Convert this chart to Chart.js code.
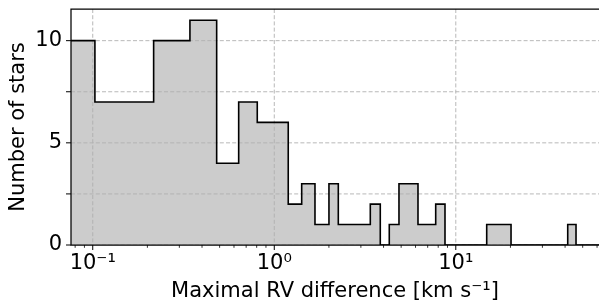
<!DOCTYPE html>
<html>
<head>
<meta charset="utf-8">
<script src="https://cdn.jsdelivr.net/npm/chart.js@4/dist/chart.umd.min.js"></script>
<style>
  html, body { margin: 0; padding: 0; background: #fff; overflow: hidden; }
</style>
</head>
<body>
<canvas id="chart" width="599" height="305"></canvas>
<script>
// Histogram of maximal RV differences, log-spaced bins.
const binEdges = [0.05, 0.1028, 0.2165, 0.3431, 0.4816, 0.6367, 0.806, 1.194, 1.416, 1.676,
  2.001, 2.253, 3.381, 3.837, 4.301, 4.864, 6.191, 7.75, 8.72, 14.80, 20.15, 41.36, 45.95];
const starCounts = [10, 7, 10, 11, 4, 7, 6, 2, 3, 1, 3, 1, 2, 0, 1, 3, 1, 2, 0, 1, 0, 1];

const xRange = [0.0759, 61.5];
const yRange = [0, 11.55];
const xMajorTicks = [0.1, 1, 10];
const xMajorLabels = ['10\u207B\u00B9', '10\u2070', '10\u00B9'];
const xMinorTicks = [0.08, 0.09, 0.2, 0.3, 0.4, 0.5, 0.6, 0.7, 0.8, 0.9,
  2, 3, 4, 5, 6, 7, 8, 9, 20, 30, 40, 50, 60];
const yTicks = [0, 2.5, 5, 7.5, 10];
const yLabelTicks = [0, 5, 10];

const FONT = 'DejaVu Sans';
const near = (a, b) => Math.abs(a - b) < 1e-9 * Math.max(1, Math.abs(b));

// step outline: each bin's left edge carries its count, the last edge drops to 0
const stepPoints = starCounts.map((count, i) => ({ x: binEdges[i], y: count }));
stepPoints.push({ x: binEdges[binEdges.length - 1], y: 0 });
stepPoints.push({ x: 100, y: 0 });

/** Dashed grid drawn over the fill, like matplotlib's default zorder. */
const gridPlugin = {
  id: 'mplGrid',
  beforeDatasetsDraw(chart) {
    const { ctx, chartArea: area, scales: { x, y } } = chart;
    ctx.save();
    ctx.beginPath();
    ctx.rect(area.left, area.top, area.right - area.left, area.bottom - area.top);
    ctx.clip();
    ctx.strokeStyle = '#b0b0b0';
    ctx.lineWidth = 0.9;
    ctx.setLineDash([4, 2.2]);
    xMajorTicks.forEach(v => {
      const px = x.getPixelForValue(v);
      ctx.beginPath();
      ctx.moveTo(px, area.top);
      ctx.lineTo(px, area.bottom);
      ctx.stroke();
    });
    yTicks.forEach(v => {
      const py = y.getPixelForValue(v);
      ctx.beginPath();
      ctx.moveTo(area.left, py);
      ctx.lineTo(area.right, py);
      ctx.stroke();
    });
    ctx.restore();
  },
  afterDatasetsDraw(chart) {
    const { ctx, chartArea: area, scales: { x, y } } = chart;
    ctx.save();
    ctx.strokeStyle = '#000';
    // tick marks
    ctx.lineWidth = 1;
    yTicks.forEach(v => {
      const py = y.getPixelForValue(v);
      ctx.beginPath();
      ctx.moveTo(area.left - 5, py);
      ctx.lineTo(area.left, py);
      ctx.stroke();
    });
    xMajorTicks.forEach(v => {
      const px = x.getPixelForValue(v);
      ctx.beginPath();
      ctx.moveTo(px, area.bottom);
      ctx.lineTo(px, area.bottom + 5);
      ctx.stroke();
    });
    ctx.lineWidth = 0.8;
    xMinorTicks.forEach(v => {
      const px = x.getPixelForValue(v);
      ctx.beginPath();
      ctx.moveTo(px, area.bottom);
      ctx.lineTo(px, area.bottom + 2.8);
      ctx.stroke();
    });
    // spines (right one falls outside the picture)
    ctx.lineWidth = 1.25;
    ctx.beginPath();
    ctx.moveTo(area.right + 2, area.top);
    ctx.lineTo(area.left, area.top);
    ctx.lineTo(area.left, area.bottom);
    ctx.lineTo(area.right + 2, area.bottom);
    ctx.stroke();
    ctx.restore();
  },
};

new Chart(document.getElementById('chart'), {
  type: 'line',
  data: {
    datasets: [{
      data: stepPoints,
      stepped: 'before',
      fill: 'origin',
      backgroundColor: '#cccccc',
      borderColor: '#000',
      borderWidth: 1.6,
      pointRadius: 0,
    }],
  },
  options: {
    responsive: false,
    animation: false,
    devicePixelRatio: 1,
    layout: { padding: { top: 9, right: 0, left: 0, bottom: 0 } },
    plugins: {
      legend: { display: false },
      tooltip: { enabled: false },
      filler: { drawTime: 'beforeDatasetsDraw' },
    },
    scales: {
      x: {
        type: 'logarithmic',
        min: xRange[0],
        max: xRange[1],
        afterBuildTicks: scale => {
          scale.ticks = [...xMinorTicks, ...xMajorTicks].sort((a, b) => a - b).map(v => ({ value: v }));
        },
        afterFit: scale => {
          scale.height = 60;
          scale.paddingLeft = 0;
          scale.paddingRight = 0;
        },
        grid: { display: true, drawOnChartArea: false, drawTicks: true, tickLength: 5, tickColor: 'rgba(0,0,0,0)' },
        border: { display: false },
        ticks: {
          autoSkip: false,
          maxRotation: 0,
          minRotation: 0,
          padding: 1,
          color: '#000',
          font: { family: FONT, size: 21 },
          callback: value => {
            const i = xMajorTicks.findIndex(v => near(v, value));
            return i >= 0 ? xMajorLabels[i] : '';
          },
        },
        title: {
          display: true,
          text: 'Maximal RV difference [km s\u207B\u00B9]',
          color: '#000',
          font: { family: FONT, size: 21 },
          padding: { top: 0, bottom: 1 },
        },
      },
      y: {
        min: yRange[0],
        max: yRange[1],
        afterBuildTicks: scale => { scale.ticks = yTicks.map(v => ({ value: v })); },
        afterFit: scale => {
          scale.width = 71;
          scale.paddingTop = 0;
          scale.paddingBottom = 0;
        },
        grid: { display: true, drawOnChartArea: false, drawTicks: true, tickLength: 5, tickColor: 'rgba(0,0,0,0)' },
        border: { display: false },
        ticks: {
          autoSkip: false,
          padding: 4,
          color: '#000',
          font: { family: FONT, size: 21 },
          callback: value => (yLabelTicks.some(v => near(v, value)) ? String(value) : ''),
        },
        title: {
          display: true,
          text: 'Number of stars',
          color: '#000',
          font: { family: FONT, size: 21 },
          padding: { top: 6, bottom: 0 },
        },
      },
    },
  },
  plugins: [gridPlugin],
});
</script>
</body>
</html>
